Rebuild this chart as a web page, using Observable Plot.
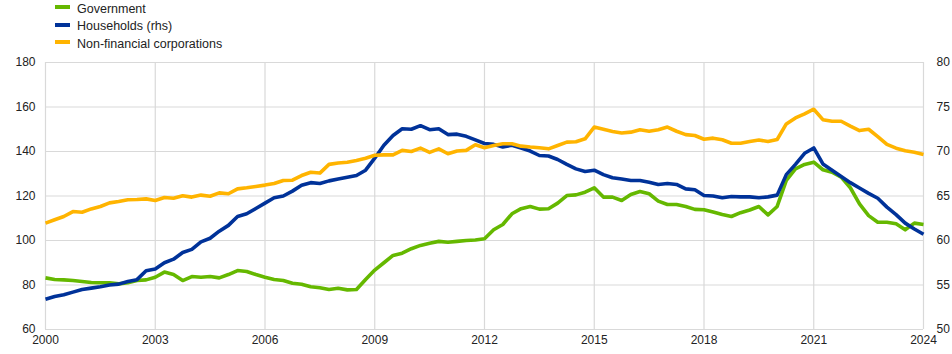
<!DOCTYPE html>
<html>
<head>
<meta charset="utf-8">
<script src="https://cdn.jsdelivr.net/npm/d3@7"></script>
<script src="https://cdn.jsdelivr.net/npm/@observablehq/plot@0.6"></script>
<style>
  html, body { margin: 0; padding: 0; background: #fff; }
  body { width: 952px; height: 354px; overflow: hidden; font-family: Arial, "Liberation Sans", sans-serif; }
  #legend { position: relative; height: 50px; }
  .item { position: absolute; left: 55px; height: 17px; display: flex; align-items: center; font-size: 12.5px; color: #222; }
  .sw { width: 15px; height: 4px; margin-right: 7px; margin-bottom: 3px; }
  #chart svg { display: block; }
</style>
</head>
<body>
<div id="legend"></div>
<div id="chart"></div>
<script>
// Quarterly, 2000Q1 .. 2024Q1
const startYear = 2000;
const seriesNames = ["Government", "Households (rhs)", "Non-financial corporations"];
const seriesColors = ["#65b800", "#003299", "#ffb400"];

const government = [
  83.2, 82.5, 82.3, 82.0,
  81.6, 81.1, 81.0, 81.0,
  80.5, 81.0, 82.0, 82.3,
  83.5, 85.8, 84.7, 82.0,
  83.8, 83.5, 83.8, 83.2,
  84.7, 86.5, 86.1, 84.7,
  83.5, 82.5, 82.0, 80.8,
  80.3, 79.2, 78.8, 78.0,
  78.5, 77.8, 78.0, 82.5,
  86.7, 90.0, 93.3, 94.3,
  96.3, 97.8, 98.8, 99.6,
  99.2, 99.6, 100.0, 100.2,
  100.8, 104.8, 107.2, 112.0,
  114.3, 115.3, 114.1, 114.3,
  116.8, 120.2, 120.5, 121.7,
  123.7, 119.5, 119.5, 118.0,
  120.7, 122.0, 121.0, 117.7,
  116.2, 116.2, 115.3, 114.0,
  113.8, 112.8, 111.7, 110.8,
  112.5, 113.7, 115.3, 111.5,
  115.3, 127.0, 132.2, 134.2,
  135.2, 131.8, 130.7, 128.5,
  123.7, 116.5, 111.2, 108.2,
  108.2, 107.5, 104.8, 107.8,
  107.2
];

// right-hand scale values
const households = [
  53.4, 53.7, 53.9, 54.2,
  54.5, 54.65, 54.8, 55.0,
  55.1, 55.4, 55.6, 56.6,
  56.8, 57.5, 57.9, 58.65,
  59.0, 59.85, 60.25, 61.05,
  61.7, 62.7, 63.0, 63.6,
  64.2, 64.8, 65.0, 65.55,
  66.2, 66.5, 66.4, 66.7,
  66.9, 67.1, 67.3, 67.9,
  69.25, 70.7, 71.8, 72.55,
  72.5, 72.9, 72.45, 72.55,
  71.9, 71.95, 71.7, 71.3,
  70.9, 70.8, 70.5, 70.7,
  70.4, 70.05, 69.55, 69.5,
  69.1, 68.55, 68.05, 67.75,
  67.9, 67.4, 67.05, 66.9,
  66.75, 66.75, 66.55, 66.3,
  66.4, 66.3, 65.8, 65.7,
  65.05, 65.0, 64.8, 64.95,
  64.9, 64.9, 64.8, 64.9,
  65.1, 67.4, 68.55, 69.8,
  70.4, 68.6, 67.9, 67.2,
  66.5, 65.9, 65.3, 64.75,
  63.75, 62.9, 61.95, 61.3,
  60.7
];

const nfc = [
  107.8, 109.3, 110.8, 113.0,
  112.7, 114.2, 115.3, 116.9,
  117.5, 118.3, 118.4, 118.7,
  118.0, 119.3, 119.0, 120.1,
  119.5, 120.4, 119.9, 121.4,
  121.0, 123.2, 123.7, 124.3,
  124.9, 125.6, 127.0, 127.1,
  129.2, 130.7, 130.3, 134.2,
  134.8, 135.2, 136.0, 137.0,
  138.3, 138.5, 138.5, 140.5,
  140.0, 141.5, 139.6, 141.2,
  139.0, 140.2, 140.5, 143.0,
  141.7, 142.7, 143.5, 143.5,
  142.4, 142.0, 141.7, 141.2,
  142.7, 144.2, 144.4, 145.7,
  151.0, 150.0, 149.0, 148.3,
  148.7, 149.8, 149.1, 149.8,
  151.0, 149.1, 147.6, 147.2,
  145.5, 146.0, 145.3, 143.7,
  143.7, 144.5, 145.2, 144.5,
  145.4, 152.4, 155.1, 156.9,
  159.0, 154.3, 153.6, 153.6,
  151.4, 149.4, 150.0, 146.7,
  143.2, 141.5, 140.3, 139.7,
  138.7
];

const xTicks = [2000, 2003, 2006, 2009, 2012, 2015, 2018, 2021, 2024];
const yTicksLeft = [60, 80, 100, 120, 140, 160, 180];
const yTicksRight = [50, 55, 60, 65, 70, 75, 80];

// map rhs values onto the left scale: 50->60, 80->180
const rhsToLeft = v => 60 + (v - 50) * 4;
const leftToRhs = v => 50 + (v - 60) / 4;

const rows = [];
government.forEach((v, i) => rows.push({series: seriesNames[0], x: startYear + i / 4, y: v}));
households.forEach((v, i) => rows.push({series: seriesNames[1], x: startYear + i / 4, y: rhsToLeft(v)}));
nfc.forEach((v, i) => rows.push({series: seriesNames[2], x: startYear + i / 4, y: v}));

// legend
const legend = document.getElementById("legend");
seriesNames.forEach((name, i) => {
  const d = document.createElement("div");
  d.className = "item";
  d.style.top = (i * 17.5) + "px";
  d.innerHTML = `<span class="sw" style="background:${seriesColors[i]}"></span><span>${name}</span>`;
  legend.appendChild(d);
});

const chart = Plot.plot({
  width: 952,
  height: 304,
  marginTop: 12,
  marginBottom: 25,
  marginLeft: 45,
  marginRight: 29,
  style: {fontFamily: "Arial, 'Liberation Sans', sans-serif", fontSize: "12px", color: "#222", background: "#fff"},
  x: {domain: [2000, 2024], ticks: xTicks, label: null},
  y: {domain: [60, 180], ticks: yTicksLeft, label: null},
  color: {domain: seriesNames, range: seriesColors},
  marks: [
    Plot.gridY(yTicksLeft, {stroke: "#d9d9d9", strokeOpacity: 1, strokeWidth: 1.2, x1: 2000, x2: 2024}),
    Plot.gridX(xTicks, {stroke: "#d9d9d9", strokeOpacity: 1, strokeWidth: 1.2}),
    Plot.axisX(xTicks, {tickSize: 0, tickPadding: 6, label: null, tickFormat: d => String(d), fontSize: 12, fill: "#222"}),
    Plot.axisY(yTicksLeft, {anchor: "left", tickSize: 0, tickPadding: 10, label: null, fontSize: 12, fill: "#222"}),
    Plot.axisY(yTicksRight.map(rhsToLeft), {anchor: "right", tickSize: 0, tickPadding: 13, label: null, fontSize: 12, fill: "#222",
      tickFormat: d => String(Math.round(leftToRhs(d)))}),
    Plot.line(rows, {x: "x", y: "y", z: "series", stroke: "series", strokeWidth: 3.6, strokeLinejoin: "round", strokeLinecap: "butt"})
  ]
});
document.getElementById("chart").appendChild(chart);
</script>
</body>
</html>
